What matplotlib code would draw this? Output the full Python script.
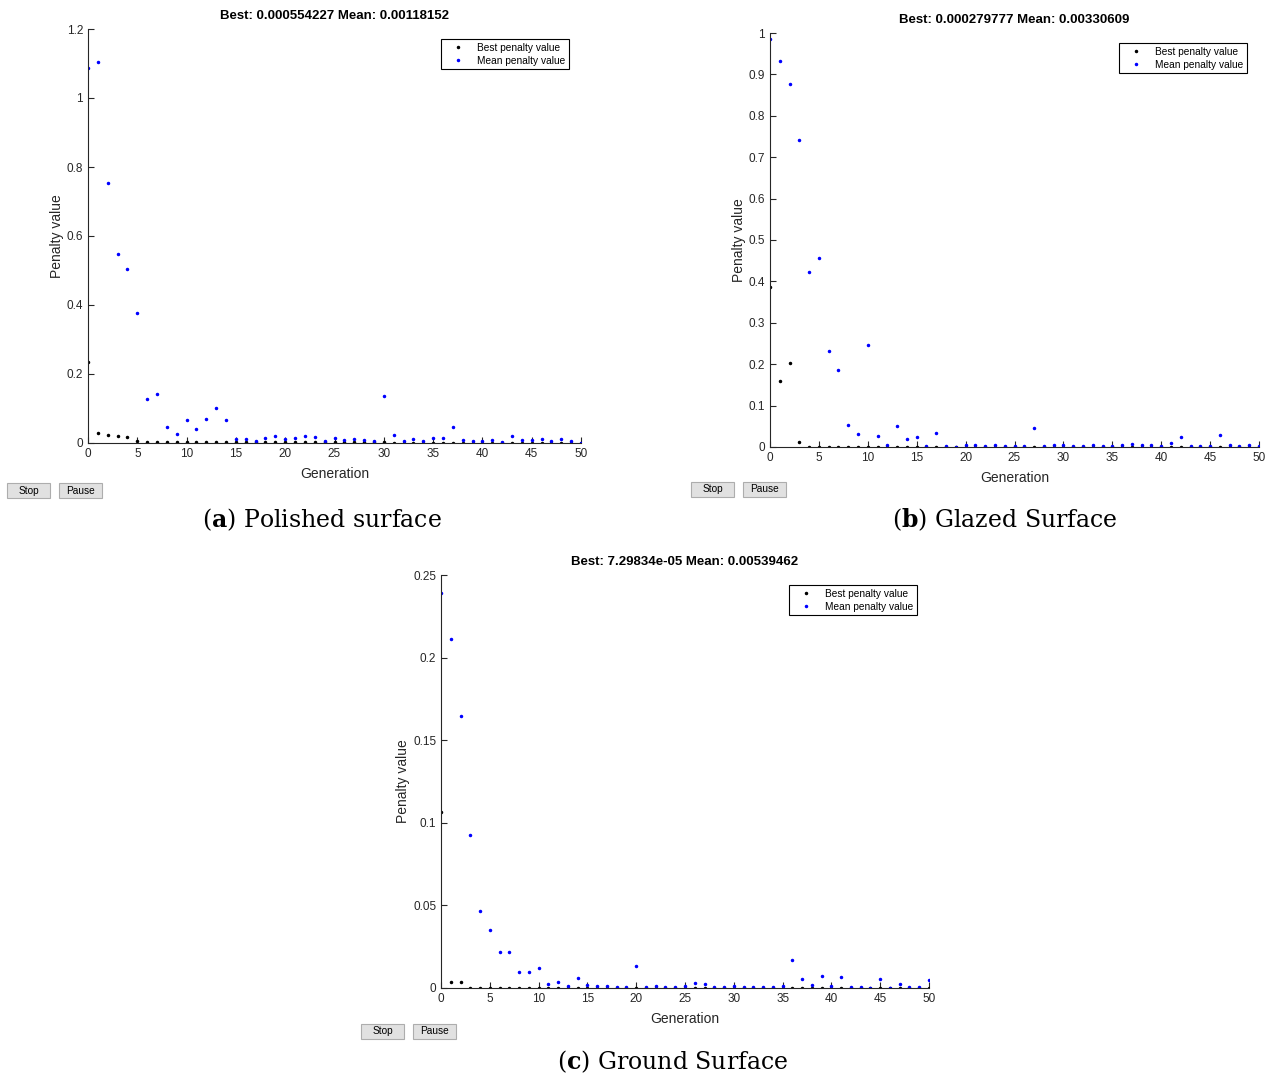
import numpy as np
import matplotlib.pyplot as plt
from matplotlib.patches import Rectangle
from matplotlib.ticker import FuncFormatter

plt.rcParams['font.family'] = ['Liberation Sans', 'DejaVu Sans']
plt.rcParams['mathtext.fontset'] = 'custom'
plt.rcParams['mathtext.bf'] = 'DejaVu Serif:bold'
plt.rcParams['mathtext.rm'] = 'DejaVu Serif'

generations = np.arange(0, 51)

# (a) Polished surface
best_a = [0.236, 0.029, 0.024, 0.020, 0.018, 0.005, 0.004, 0.003, 0.003, 0.003,
          0.003, 0.002, 0.002, 0.002, 0.002, 0.002, 0.002, 0.002, 0.002, 0.002,
          0.002, 0.002, 0.002, 0.002, 0.002, 0.002, 0.002, 0.002, 0.002, 0.002,
          0.002, 0.001, 0.001, 0.001, 0.001, 0.001, 0.001, 0.001, 0.001, 0.001,
          0.001, 0.001, 0.001, 0.001, 0.001, 0.001, 0.001, 0.001, 0.001, 0.001,
          0.00055]
mean_a = [1.086, 1.105, 0.753, 0.548, 0.505, 0.378, 0.128, 0.141, 0.046, 0.027,
          0.066, 0.040, 0.069, 0.102, 0.067, 0.012, 0.013, 0.006, 0.015, 0.020,
          0.011, 0.014, 0.020, 0.016, 0.007, 0.015, 0.009, 0.012, 0.008, 0.006,
          0.137, 0.023, 0.007, 0.012, 0.005, 0.014, 0.014, 0.046, 0.010, 0.006,
          0.006, 0.009, 0.003, 0.019, 0.009, 0.009, 0.013, 0.005, 0.011, 0.005,
          0.0012]

# (b) Glazed Surface
best_b = [0.386, 0.160, 0.204, 0.012, 0.001, 0.001, 0.001, 0.001, 0.001, 0.001,
          0.001, 0.001, 0.001, 0.001, 0.001, 0.001, 0.001, 0.001, 0.001, 0.001,
          0.001, 0.001, 0.001, 0.001, 0.001, 0.001, 0.001, 0.001, 0.001, 0.001,
          0.001, 0.0005, 0.0005, 0.0005, 0.0005, 0.0005, 0.0005, 0.0005, 0.0005, 0.0005,
          0.0005, 0.0005, 0.0005, 0.0005, 0.0005, 0.0005, 0.0005, 0.0005, 0.0005, 0.0005,
          0.00028]
mean_b = [0.985, 0.932, 0.876, 0.742, 0.422, 0.456, 0.233, 0.187, 0.054, 0.032,
          0.247, 0.027, 0.006, 0.050, 0.019, 0.025, 0.002, 0.034, 0.002, 0.001,
          0.004, 0.004, 0.002, 0.006, 0.003, 0.002, 0.002, 0.046, 0.003, 0.004,
          0.004, 0.002, 0.002, 0.006, 0.003, 0.003, 0.006, 0.007, 0.005, 0.004,
          0.002, 0.010, 0.024, 0.002, 0.002, 0.002, 0.028, 0.006, 0.002, 0.006,
          0.0033]

# (c) Ground Surface
best_c = [0.1063, 0.0034, 0.0034, 0.0002, 0.0002, 0.0002, 0.0002, 0.0002, 0.0002, 0.0002,
          0.0002, 0.0002, 0.0002, 0.0002, 0.0002, 0.0002, 0.0002, 0.0002, 0.0002, 0.0002,
          0.0002, 0.0001, 0.0001, 0.0001, 0.0001, 0.0001, 0.0001, 0.0001, 0.0001, 0.0001,
          0.0001, 0.0001, 0.0001, 0.0001, 0.0001, 0.0001, 0.0001, 0.0001, 0.0001, 0.0001,
          0.0001, 0.0001, 0.0001, 0.0001, 0.0001, 0.0001, 0.0001, 0.0001, 0.0001, 0.0001,
          0.000073]
mean_c = [0.2389, 0.2113, 0.1644, 0.0924, 0.0464, 0.0349, 0.0220, 0.0220, 0.0095, 0.0095,
          0.0123, 0.0022, 0.0038, 0.0010, 0.0063, 0.0018, 0.0010, 0.0010, 0.0006, 0.0006,
          0.0135, 0.0008, 0.0012, 0.0004, 0.0004, 0.0012, 0.0030, 0.0024, 0.0008, 0.0008,
          0.0010, 0.0004, 0.0008, 0.0004, 0.0004, 0.0012, 0.0172, 0.0054, 0.0018, 0.0075,
          0.0012, 0.0069, 0.0008, 0.0006, 0.0002, 0.0054, 0.0002, 0.0026, 0.0008, 0.0004,
          0.0050]

titles = ['Best: 0.000554227 Mean: 0.00118152',
          'Best: 0.000279777 Mean: 0.00330609',
          'Best: 7.29834e-05 Mean: 0.00539462']
captions = [r'($\mathbf{a}$) Polished surface',
            r'($\mathbf{b}$) Glazed Surface',
            r'($\mathbf{c}$) Ground Surface']
ylims = [1.2, 1.0, 0.25]
ysteps = [0.2, 0.1, 0.05]

W, H = 1269, 1079
fig = plt.figure(figsize=(W / 100, H / 100), dpi=100)

# axes boxes in pixels: left, top, right, bottom
boxes = [(88, 29, 581, 443), (770, 33, 1259, 447), (441, 575, 929, 988)]
buttons = [(7, 483), (691, 482), (361, 1024)]
caption_pos = [(322, 520), (1005, 520), (673, 1062)]

axc = '#262626'
data = [(best_a, mean_a), (best_b, mean_b), (best_c, mean_c)]
for i, (best, mean) in enumerate(data):
    l, t, r, b = boxes[i]
    ax = fig.add_axes([l / W, 1 - b / H, (r - l) / W, (b - t) / H])
    ax.plot(generations, best, '.', color='black', markersize=3, label='Best penalty value')
    ax.plot(generations, mean, '.', color='blue', markersize=3, label='Mean penalty value')
    ax.set_xlim(0, 50)
    ax.set_ylim(0, ylims[i])
    ax.set_xticks(np.arange(0, 51, 5))
    ax.set_yticks(np.arange(0, ylims[i] + 1e-9, ysteps[i]))
    ax.yaxis.set_major_formatter(FuncFormatter(lambda v, p: '%g' % round(v, 4)))
    ax.spines['top'].set_visible(False)
    ax.spines['right'].set_visible(False)
    for s in ('left', 'bottom'):
        ax.spines[s].set_color(axc)
        ax.spines[s].set_linewidth(0.8)
    ax.tick_params(direction='in', length=4, width=0.8, colors=axc, labelsize=8.5)
    ax.set_xlabel('Generation', fontsize=10, color=axc, labelpad=5)
    ax.set_ylabel('Penalty value', fontsize=10, color=axc, labelpad=2)
    ax.set_title(titles[i], fontsize=9.5, fontweight='bold', pad=7)
    ax.patch.set_alpha(0)
    leg = ax.legend(loc='upper right', bbox_to_anchor=(0.975, 0.975), fontsize=7.3,
                    fancybox=False, edgecolor='black', framealpha=1,
                    handlelength=2.6, handletextpad=0.6, borderpad=0.35,
                    labelspacing=0.3, borderaxespad=0)
    leg.get_frame().set_linewidth(0.8)

    bx, by = buttons[i]
    for j, lab in enumerate(['Stop', 'Pause']):
        x0 = bx + j * 52
        fig.patches.append(Rectangle((x0 / W, 1 - (by + 15) / H), 43 / W, 15 / H,
                                     transform=fig.transFigure, facecolor='#e1e1e1',
                                     edgecolor='#adadad', linewidth=0.8))
        fig.text((x0 + 21.5) / W, 1 - (by + 7.5) / H, lab, fontsize=7.3,
                 ha='center', va='center', color='black')

    cx, cy = caption_pos[i]
    fig.text(cx / W, 1 - cy / H, captions[i], fontsize=17, ha='center', va='center',
             family='DejaVu Serif')

fig.savefig('out.png', dpi=100)
